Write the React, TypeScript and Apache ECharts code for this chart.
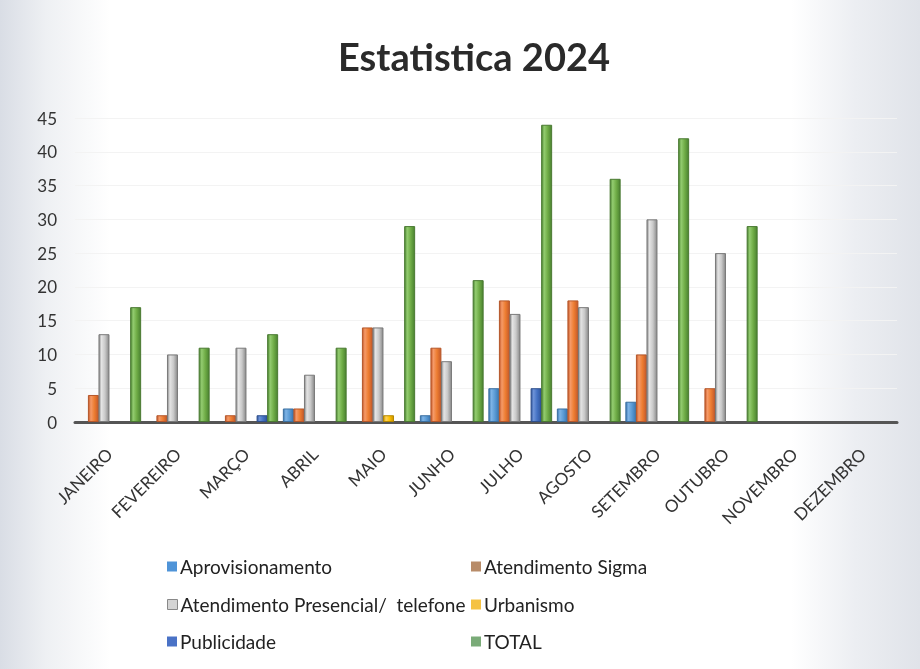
import React, { useEffect, useRef } from "react";
import * as echarts from "echarts";

const months = ["JANEIRO", "FEVEREIRO", "MARÇO", "ABRIL", "MAIO", "JUNHO", "JULHO", "AGOSTO", "SETEMBRO", "OUTUBRO", "NOVEMBRO", "DEZEMBRO"];
const seriesNames = ["Aprovisionamento", "Atendimento Sigma", "Atendimento Presencial/  telefone", "Urbanismo", "Publicidade", "TOTAL"];
const aprovisionamento = [0, 0, 0, 2, 0, 1, 5, 2, 3, 0, 0, 0];
const atendimentoSigma = [4, 1, 1, 2, 14, 11, 18, 18, 10, 5, 0, 0];
const atendimentoPresencial = [13, 10, 11, 7, 14, 9, 16, 17, 30, 25, 0, 0];
const urbanismo = [0, 0, 0, 0, 1, 0, 0, 0, 0, 0, 0, 0];
const publicidade = [0, 0, 1, 0, 0, 0, 5, 0, 0, 0, 0, 0];
const total = [17, 11, 13, 11, 29, 21, 44, 36, 42, 29, 0, 0];
const yTicks = [0, 5, 10, 15, 20, 25, 30, 35, 40, 45];

const FONT = "Lato, 'Noto Sans', sans-serif";

function cyl(dark: string, mid: string, light: string) {
  return new echarts.graphic.LinearGradient(0, 0, 1, 0, [
    { offset: 0, color: dark },
    { offset: 0.25, color: light },
    { offset: 0.6, color: mid },
    { offset: 1, color: dark },
  ]);
}

export default function App() {
  const ref = useRef<HTMLDivElement>(null);
  useEffect(() => {
    if (!ref.current) return;
    const chart = echarts.init(ref.current, undefined, { renderer: "svg" });
    const values = [aprovisionamento, atendimentoSigma, atendimentoPresencial, urbanismo, publicidade, total];
    const fills = [
      cyl("#3a76b0", "#5b9bd5", "#7fb4e6"),
      cyl("#c4592a", "#ed7d31", "#f59a68"),
      cyl("#8a8a8a", "#c9c9c9", "#e4e4e4"),
      cyl("#c99400", "#ffc000", "#ffd45a"),
      cyl("#2f559c", "#4472c4", "#6d93d8"),
      cyl("#4a8230", "#70ad47", "#93cc70"),
    ];
    const borders = ["#3a6fa0", "#b5572a", "#7a7a7a", "#b58800", "#2e4f8c", "#4a7a32"];
    const swatch = ["#4f94d8", "#b88c69", "#d4d4d4", "#f5c242", "#4a72c6", "#7aab78"];
    const legendPos = [
      [162, 552], [466, 552],
      [162, 590], [466, 590],
      [162, 627], [466, 627],
    ];
    chart.setOption({
      animation: false,
      graphic: [
        {
          type: "rect",
          z: -10,
          silent: true,
          shape: { x: 0, y: 0, width: 920, height: 669 },
          style: {
            fill: new echarts.graphic.LinearGradient(0, 0, 1, 0, [
              { offset: 0, color: "#d9dde5" },
              { offset: 0.05, color: "#eef0f3" },
              { offset: 0.12, color: "#ffffff" },
              { offset: 0.86, color: "#ffffff" },
              { offset: 0.93, color: "#eceef2" },
              { offset: 1, color: "#e0e3e9" },
            ]),
          },
        },
        {
          type: "rect",
          z: -9,
          silent: true,
          shape: { x: 148, y: 543, width: 558, height: 120 },
          style: { fill: "rgba(255,255,255,0.6)" },
        },
      ],
      title: {
        text: "Estatistica 2024",
        left: 469,
        top: 32,
        textAlign: "center",
        textStyle: { fontFamily: FONT, fontSize: 38, fontWeight: "bold", color: "#2a2a2a" },
      },
      legend: seriesNames.map((n, i) => ({
        left: legendPos[i][0],
        top: legendPos[i][1],
        icon: "rect",
        itemWidth: 10,
        itemHeight: 10,
        itemGap: 4,
        data: [{ name: n, itemStyle: { color: swatch[i], borderColor: i === 2 ? "#888" : swatch[i], borderWidth: i === 2 ? 1 : 0 } }],
        textStyle: { fontFamily: FONT, fontSize: 19, color: "#222", padding: [0, 0, 0, -2] },
      })),
      grid: { left: 75, right: 23, top: 118, bottom: 247 },
      xAxis: {
        type: "category",
        data: months,
        axisLine: { lineStyle: { color: "#555", width: 3 } },
        axisTick: { show: false },
        axisLabel: { rotate: 45, interval: 0, margin: 29, fontFamily: FONT, fontSize: 17, color: "#333" },
      },
      yAxis: {
        type: "value",
        min: yTicks[0],
        max: yTicks[yTicks.length - 1],
        interval: 5,
        axisLine: { show: false },
        axisTick: { show: false },
        splitLine: { show: true, lineStyle: { color: "#f3f3f3" } },
        axisLabel: { margin: 18, fontFamily: FONT, fontSize: 17, color: "#333" },
      },
      series: seriesNames.map((n, i) => ({
        name: n,
        type: "bar",
        data: values[i].map((v) => (v === 0 ? "-" : v)),
        barWidth: 11,
        barGap: "-4%",
        itemStyle: { color: fills[i], borderColor: borders[i], borderWidth: 1 },
      })),
    });
    return () => chart.dispose();
  }, []);
  return <div ref={ref} style={{ position: "fixed", left: 0, top: 0, width: 920, height: 669 }} />;
}
